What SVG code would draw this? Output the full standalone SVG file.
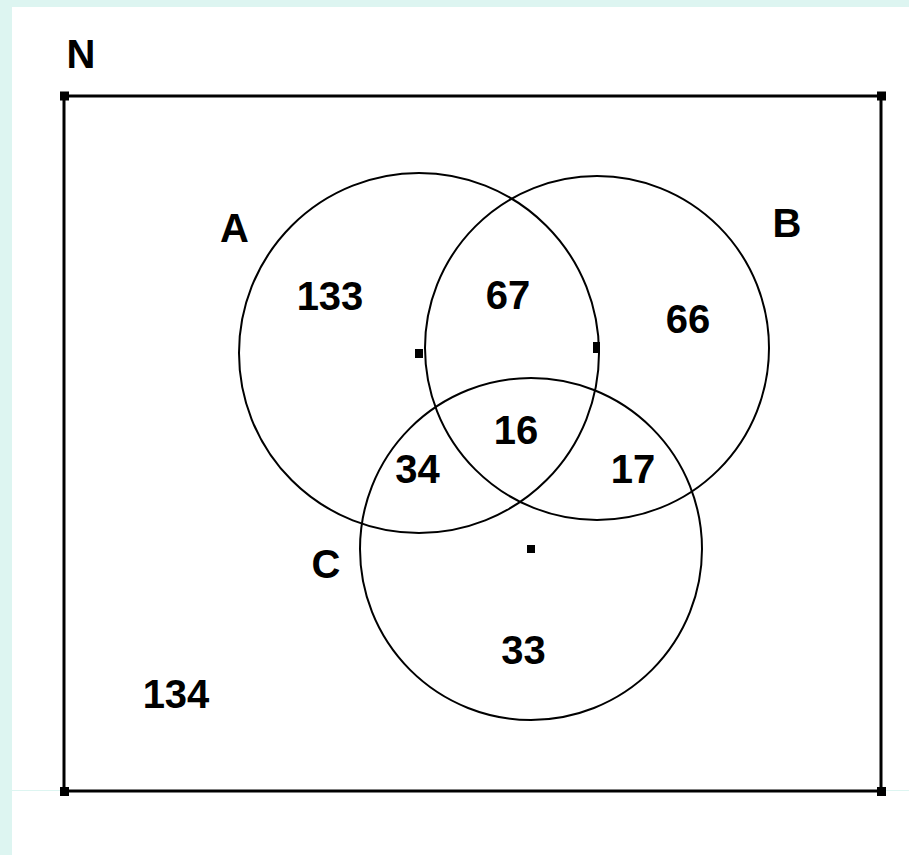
<svg xmlns="http://www.w3.org/2000/svg" width="909" height="855" viewBox="0 0 909 855">
<style>
.lbl{font-family:"Liberation Sans",Arial,sans-serif;font-weight:bold;font-size:40px;fill:#000;text-anchor:middle}
.circ{fill:none;stroke:#000;stroke-width:2}
.dot{fill:#000}
</style>
<rect x="0" y="0" width="909" height="855" fill="#ddf5f1"/>
<rect x="12" y="7" width="897" height="848" fill="#fff"/>
<line x1="12" y1="790.5" x2="60" y2="790.5" stroke="#ddf5f1" stroke-width="1"/>
<line x1="886" y1="790.5" x2="909" y2="790.5" stroke="#ddf5f1" stroke-width="1"/>
<g id="universe">
<rect x="64" y="96" width="817" height="695" fill="none" stroke="#000" stroke-width="3"/>
<rect class="dot" x="60" y="91.5" width="9" height="9"/>
<rect class="dot" x="877" y="91.5" width="9" height="9"/>
<rect class="dot" x="60" y="787" width="9" height="9"/>
<rect class="dot" x="877" y="787" width="9" height="9"/>
<text class="lbl" x="81" y="68">N</text>
</g>
<g id="setA">
<circle class="circ" cx="419" cy="353" r="180"/>
<rect class="dot" x="415" y="349" width="8" height="9"/>
<text class="lbl" x="234.5" y="242">A</text>
</g>
<g id="setB">
<circle class="circ" cx="597" cy="348" r="172"/>
<rect class="dot" x="593" y="342" width="7" height="11"/>
<text class="lbl" x="787" y="237">B</text>
</g>
<g id="setC">
<circle class="circ" cx="531" cy="549" r="171"/>
<rect class="dot" x="527" y="545" width="8" height="8"/>
<text class="lbl" x="326" y="578">C</text>
</g>
<g id="counts">
<text class="lbl" x="330" y="310">133</text>
<text class="lbl" x="508" y="309">67</text>
<text class="lbl" x="688" y="333">66</text>
<text class="lbl" x="516" y="444">16</text>
<text class="lbl" x="417.5" y="483">34</text>
<text class="lbl" x="633" y="483">17</text>
<text class="lbl" x="523.5" y="664">33</text>
<text class="lbl" x="176" y="708">134</text>
</g>
<g id="connectors"></g>
</svg>
